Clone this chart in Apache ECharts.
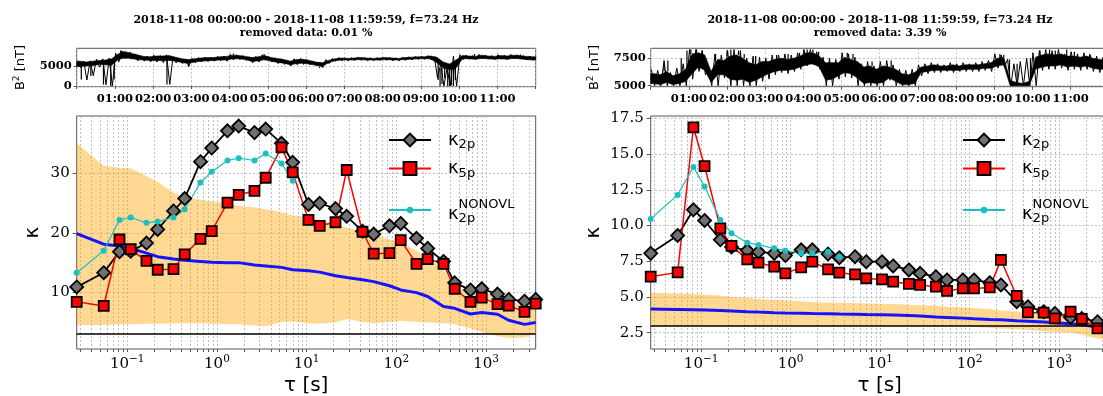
<!DOCTYPE html>
<html>
<head>
<meta charset="utf-8">
<script src="https://cdn.jsdelivr.net/npm/echarts@6/dist/echarts.min.js"></script>
<style>
html, body { margin: 0; padding: 0; background: #fff; }
#chart { width: 1103px; height: 396px; }
</style>
</head>
<body>
<div id="chart"></div>
<script>
// sampling frequency and window lengths (samples)
const fs = 73.24;
const lagSamples = [2, 4, 6, 8, 12, 16, 24, 32, 48, 64, 96, 128, 192, 256, 384, 512, 768, 1024, 1536, 2048,
  3072, 4096, 6144, 8192, 12288, 16384, 24576, 32768, 49152, 65536, 98304, 131072, 196608, 262144];
const kappaRef = 3;
const titleLine = '2018-11-08 00:00:00 - 2018-11-08 11:59:59, f=73.24 Hz';
const removedPct = ['0.01', '3.39'];

// tick labels
const tauDecades = [0.1, 1, 10, 100, 1000];
const hourTicks = [1, 2, 3, 4, 5, 6, 7, 8, 9, 10, 11];
const b2TicksA = [0, 5000];
const b2TicksB = [5000, 7500];
const kTicksA = [10, 20, 30];
const kTicksB = [2.5, 5, 7.5, 10, 12.5, 15, 17.5];

// ---- left panel ----
const k2pA = [10.9, 13.3, 16.85, 16.9, 18.3, 20.6, 23.7, 25.8, 32.0, 34.3, 37.2, 38.0, 36.9, 37.5, 35.1, 31.9,
  24.8, 25.0, 24.1, 22.8, 20.3, 19.8, 21.2, 21.6, 19.1, 17.4, 15.2, 11.6, 10.4, 10.6, 9.7, 8.8, 8.5, 8.8];
const k5pA = [8.4, 7.7, 18.9, 17.25, 15.3, 13.8, 13.9, 16.4, 19.0, 20.3, 25.1, 26.4, 27.1, 29.3, 34.4, 30.2,
  22.2, 21.2, 21.8, 30.6, 20.2, 16.5, 16.6, 18.8, 14.8, 15.6, 14.8, 10.6, 8.4, 9.1, 8.0, 7.75, 6.7, 8.1];
const kNonA = [13.3, 17.0, 22.2, 22.6, 21.7, 21.9, 22.6, 24.0, 28.5, 30.3, 32.2, 32.6, 32.2, 33.4, 31.7, 28.8];
const kMeanA = [19.9, 18.1, 17.8, 17.4, 16.6, 16.0, 15.6, 15.4, 15.2, 15.05, 15.0, 15.0, 14.6, 14.45, 14.2, 13.8,
  13.65, 13.4, 12.8, 12.5, 12.1, 11.8, 11.1, 10.4, 9.95, 9.3, 7.6, 7.3, 6.35, 6.6, 6.3, 5.3, 4.6, 4.9];
const bandLoA = [4.5, 4.5, 4.6, 4.6, 4.7, 4.7, 4.8, 4.8, 4.8, 4.7, 4.6, 4.6, 4.4, 4.3, 5.0, 5.1,
  4.8, 4.7, 4.9, 5.5, 5.0, 4.8, 5.0, 5.2, 5.0, 4.9, 4.8, 4.6, 3.9, 3.3, 2.6, 2.3, 2.4, 3.0];
const bandHiA = [35.1, 31.3, 31.0, 30.9, 29.6, 28.6, 26.8, 26.0, 25.6, 25.3, 25.0, 24.6, 24.3, 24.0, 23.5, 23.0,
  22.6, 22.2, 21.5, 20.9, 20.2, 19.7, 18.9, 18.4, 17.0, 15.8, 13.9, 11.0, 9.8, 9.6, 10.0, 8.8, 7.6, 7.0];
// B^2 in 10-minute bins from 00:00: dense core, bin peaks, and single spikes [hour, nT]
const coreHiA = [6200, 6000, 6200, 6400, 6500, 6800, 8000, 8600, 8200, 7800, 7400, 7300,
  7500, 7500, 7600, 7200, 6800, 6600, 6800, 7000, 7100, 7100, 7300, 7400,
  7700, 7600, 7400, 7100, 7300, 7600, 7100, 6900, 6600, 6200, 6600, 6700,
  6400, 6000, 5800, 6400, 6800, 7000, 6900, 7000, 7100, 7000, 6900, 7000,
  7100, 7000, 6900, 7100, 7200, 7300, 7300, 7500, 7200, 6000, 5500, 6500,
  7600, 7500, 7400, 7700, 7500, 7400, 7600, 7500, 7700, 7600, 7400, 7300];
const coreLoA = [4900, 5000, 5100, 5400, 5300, 5200, 6600, 7000, 6900, 6600, 6500, 6400,
  6400, 6300, 6400, 6200, 5900, 5600, 6000, 6200, 6300, 6400, 6500, 6500,
  6800, 6800, 6600, 6100, 6300, 6600, 6200, 5900, 5700, 5300, 5600, 5700,
  5500, 5200, 4900, 5800, 6300, 6500, 6500, 6500, 6600, 6500, 6500, 6500,
  6600, 6500, 6500, 6600, 6700, 6800, 6800, 6800, 5800, 4500, 4000, 4500,
  6800, 6800, 6700, 6900, 6800, 6700, 6800, 6700, 6900, 6800, 6600, 6500];
const peakHiA = [6300, 6200, 6300, 6700, 6800, 7000, 8200, 8800, 8300, 8000, 7500, 7400,
  7700, 7600, 7800, 7300, 6900, 6700, 6900, 7100, 7200, 7100, 7400, 7500,
  7900, 7800, 7600, 7300, 7400, 7800, 7300, 7000, 6800, 6400, 6800, 6900,
  6600, 6200, 6000, 6600, 6900, 7100, 7000, 7100, 7200, 7100, 7000, 7100,
  7200, 7100, 7000, 7200, 7300, 7400, 7400, 7600, 7300, 5500, 4500, 7500,
  7800, 7700, 7600, 7900, 7700, 7600, 7800, 7700, 7900, 7800, 7600, 7500];
const peakLoA = [4600, 1500, 2600, 4700, 300, 0, 6000, 6800, 6700, 6300, 6200, 6000,
  6000, 5800, 400, 5800, 5600, 5000, 5800, 6000, 6100, 6200, 6300, 6200,
  6500, 6600, 6400, 5800, 6000, 6400, 6000, 5600, 5400, 5000, 5300, 5400,
  5300, 5000, 4600, 5600, 6200, 6300, 6300, 6400, 6400, 6300, 6300, 6400,
  6400, 6300, 6300, 6400, 6500, 6600, 6700, 6500, 2000, 0, 0, 0,
  6600, 6700, 6600, 6800, 6700, 6600, 6700, 6600, 6800, 6700, 6500, 6400];
const spikesA = [[0.12, 1600], [0.37, 2500], [0.7, 400], [0.89, 0], [0.98, 1600], [1.15, 8900], [1.4, 8500],
  [2.36, 400], [2.92, 4800], [4.1, 8100], [4.9, 8000], [6.35, 4500], [9.45, 1500], [9.5, 0], [9.55, 500],
  [9.62, 2000], [9.7, 0], [9.75, 0], [9.8, 200], [9.85, 0], [9.9, 1500], [10.4, 8000], [11.6, 7900]];

// ---- right panel ----
const k2pB = [8.05, 9.3, 11.1, 10.35, 9.0, 8.5, 8.25, 8.15, 8.05, 7.9, 8.3, 8.3, 8.0, 7.75, 7.82, 7.47,
  7.47, 7.17, 6.89, 6.65, 6.42, 6.19, 6.19, 6.19, 6.0, 5.84, 4.67, 4.32, 3.97, 3.85, 3.57, 3.5, 3.27, 3.1];
const k5pB = [6.42, 6.72, 16.87, 14.16, 9.8, 8.57, 7.63, 7.4, 7.12, 6.65, 7.07, 7.47, 6.93, 6.7, 6.58, 6.3,
  6.23, 6.07, 5.91, 5.84, 5.72, 5.42, 5.6, 5.6, 5.67, 7.59, 5.07, 3.92, 3.9, 3.5, 3.97, 3.46, 2.8, 2.9];
const kNonB = [10.46, 12.13, 14.1, 12.72, 10.39, 9.45, 8.8, 8.64, 8.4, 8.24, 8.05, 8.05, 8.17, 7.82];
const kMeanB = [4.15, 4.12, 4.1, 4.08, 4.05, 4.02, 3.97, 3.94, 3.9, 3.88, 3.86, 3.84, 3.82, 3.8, 3.79, 3.77,
  3.75, 3.73, 3.7, 3.67, 3.6, 3.57, 3.52, 3.48, 3.43, 3.4, 3.33, 3.3, 3.25, 3.2, 3.12, 3.05, 2.9, 2.85];
const bandLoB = [2.95, 2.95, 2.95, 2.95, 2.95, 2.95, 2.95, 2.95, 2.95, 2.95, 2.95, 2.95, 2.95, 2.95, 2.95, 2.95,
  2.95, 2.95, 2.95, 2.95, 2.95, 2.95, 2.95, 2.9, 2.85, 2.8, 2.75, 2.7, 2.6, 2.55, 2.5, 2.35, 2.1, 2.0];
const bandHiB = [5.3, 5.25, 5.2, 5.15, 5.1, 5.0, 4.95, 4.85, 4.8, 4.75, 4.7, 4.65, 4.6, 4.6, 4.58, 4.55,
  4.52, 4.5, 4.45, 4.42, 4.38, 4.32, 4.28, 4.22, 4.15, 4.05, 3.98, 3.92, 3.85, 3.8, 3.7, 3.55, 3.35, 3.3];
const coreHiB = [6100, 6000, 6300, 5900, 6100, 6500, 7900, 8000, 7800, 6300, 7400, 7300,
  7700, 7800, 7500, 7100, 6900, 7200, 7200, 7400, 7500, 7400, 7500, 7700,
  8000, 8000, 7700, 7100, 7100, 7100, 7600, 7400, 7200, 6700, 6800, 6500,
  6800, 6700, 6500, 6100, 6000, 6200, 6700, 6800, 6900, 6800, 6800, 6900,
  6800, 6900, 6900, 6900, 7000, 7100, 7500, 7600, 5500, 5300, 5200, 5400,
  7600, 7800, 7900, 7800, 7900, 7700, 7700, 7600, 7700, 7500, 7400, 7300];
const coreLoB = [5200, 5100, 5300, 5100, 5200, 5400, 6100, 6700, 6400, 5300, 6000, 6000,
  5600, 5500, 5600, 5300, 5500, 5800, 6100, 6300, 6400, 6400, 6500, 6700,
  6900, 7000, 6700, 5500, 5600, 5900, 6200, 6100, 5700, 5200, 5300, 5200,
  5300, 5700, 5400, 5100, 5100, 5200, 6200, 6300, 6400, 6400, 6400, 6400,
  6400, 6500, 6500, 6500, 6600, 6600, 6800, 6900, 5000, 5000, 5000, 5000,
  6500, 6700, 6800, 6800, 6900, 6700, 6800, 6700, 6800, 6600, 6500, 6500];
const peakHiB = [6500, 6400, 7300, 6200, 6600, 7000, 8300, 8300, 8200, 6500, 7900, 7800,
  8200, 8300, 8200, 7500, 7700, 7600, 7500, 7800, 7800, 7900, 7800, 8000,
  8300, 8300, 8100, 7600, 7500, 7400, 8000, 7900, 7600, 7000, 7200, 6800,
  7200, 7300, 6900, 6500, 6400, 6500, 6900, 7000, 7100, 7000, 6900, 7100,
  7000, 7100, 7000, 7100, 7200, 7300, 7900, 7800, 7400, 7000, 7200, 7500,
  8000, 8200, 8300, 8200, 8300, 7900, 8100, 7900, 8000, 7800, 7700, 7600];
const peakLoB = [5000, 5000, 5000, 5000, 5000, 5000, 5600, 6300, 6000, 5000, 5000, 5700,
  5000, 5000, 5000, 5000, 5000, 5400, 5600, 6000, 6200, 6100, 6300, 6500,
  6800, 6900, 6500, 5000, 5000, 5600, 5800, 5700, 5000, 5000, 5000, 5000,
  5000, 5500, 5000, 5000, 5000, 5000, 5900, 6100, 6200, 6200, 6300, 6200,
  6300, 6300, 6300, 6300, 6400, 6300, 6600, 6700, 5000, 5000, 5000, 5000,
  5000, 6400, 6500, 6500, 6600, 6400, 6500, 6400, 6500, 6300, 6200, 6300];
const spikesB = [[0.35, 7000], [0.45, 7300], [0.8, 7500], [0.95, 8200], [1.05, 8300], [1.2, 8300],
  [1.35, 8200], [1.7, 7900], [2.0, 8200], [2.1, 8300], [2.3, 8200], [2.45, 7900], [2.75, 7700],
  [3.3, 7800], [3.6, 7900], [3.9, 8000], [4.1, 8300], [4.25, 8300], [4.4, 8100], [5.15, 8000], [5.3, 7900],
  [5.8, 7200], [6.3, 7300], [9.15, 7900], [9.25, 7800], [9.4, 7400], [9.6, 7000], [9.95, 7500],
  [10.2, 8200], [10.45, 8300], [10.6, 8200], [10.9, 8300], [11.1, 8100], [11.5, 7900]];

const SERIF = "'DejaVu Serif', serif";
const SANS = "'DejaVu Sans', sans-serif";
const tau = lagSamples.map(n => n / fs);
const pairs = vals => vals.map((v, i) => [tau[i], v]);

// minor + major grid positions on the log axis
const tauGrid = [];
for (let e = -2; e <= 3; e++) {
  for (let m = 1; m <= 9; m++) {
    const v = +(m * Math.pow(10, e)).toPrecision(6);
    if (v >= tau[0] && v <= tau[tau.length - 1]) tauGrid.push(v);
  }
}

function powLabel(v) {
  const e = Math.round(Math.log10(v));
  return '{b|10}{s|' + (e < 0 ? '\u2212' + (-e) : e) + '}';
}

const gridLine = { show: true, lineStyle: { color: '#b0b0b0', type: [2, 2], width: 0.8 } };
const frame = { show: true, borderColor: '#555', borderWidth: 1, backgroundColor: 'transparent', outerBoundsMode: 'none', containLabel: false };

function timeAxis(gi) {
  return {
    type: 'value', gridIndex: gi, min: 0, max: 12, interval: 1,
    axisLine: { show: false },
    axisTick: { show: true, length: 3, lineStyle: { color: '#555' } },
    axisLabel: {
      hideOverlap: false, margin: 6, color: '#000', fontFamily: SERIF, fontWeight: 'bold', fontSize: 11.5,
      formatter: v => hourTicks.indexOf(v) >= 0 ? String(v).padStart(2, '0') + ':00' : ''
    },
    splitLine: gridLine
  };
}

function tauAxis(gi) {
  return {
    type: 'log', logBase: 10, gridIndex: gi, min: tau[0], max: tau[tau.length - 1],
    name: 'τ [s]', nameLocation: 'middle', nameGap: 27, nameMoveOverlap: false,
    nameTextStyle: { fontFamily: SANS, fontSize: 20, color: '#000' },
    axisLine: { show: false },
    axisTick: { customValues: tauGrid, length: 3, lineStyle: { color: '#555' } },
    axisLabel: {
      customValues: tauDecades, formatter: powLabel, margin: 5, hideOverlap: false,
      rich: {
        b: { fontFamily: SERIF, fontSize: 15, color: '#000' },
        s: { fontFamily: SERIF, fontSize: 10.5, color: '#000', padding: [0, 0, 10, 0] }
      }
    },
    splitLine: gridLine
  };
}

function b2Axis(gi, min, max, ticks) {
  return {
    type: 'value', gridIndex: gi, min: min, max: max,
    name: '{a|B}{s|2}{a| [nT]}', nameLocation: 'middle', nameGap: 48, nameMoveOverlap: false,
    nameTextStyle: {
      rich: {
        a: { fontFamily: SANS, fontSize: 13, color: '#000' },
        s: { fontFamily: SANS, fontSize: 9, color: '#000', padding: [0, 0, 8, 0] }
      }
    },
    axisLine: { show: false },
    axisTick: { customValues: ticks, length: 3, lineStyle: { color: '#555' } },
    axisLabel: {
      customValues: ticks, margin: 5, color: '#000', fontFamily: SERIF, fontWeight: 'bold', fontSize: 11.5,
      formatter: v => String(v)
    },
    splitLine: gridLine
  };
}

function kAxis(gi, min, max, ticks, gap, fmt) {
  return {
    type: 'value', gridIndex: gi, min: min, max: max,
    name: 'κ', nameLocation: 'middle', nameGap: gap, nameMoveOverlap: false,
    nameTextStyle: { fontFamily: SANS, fontSize: 20, color: '#000' },
    axisLine: { show: false },
    axisTick: { customValues: ticks, length: 4, lineStyle: { color: '#555' } },
    axisLabel: { customValues: ticks, margin: 7, color: '#000', fontFamily: SERIF, fontSize: 15, formatter: fmt || (v => String(v)) },
    splitLine: gridLine
  };
}

// filled dense core of the B^2 trace (bin centres)
function coreSeries(xi, hi, lo) {
  const n = hi.length;
  const tc = i => (i + 0.5) / 6;
  return {
    type: 'custom', xAxisIndex: xi, yAxisIndex: xi, silent: true, clip: true,
    data: hi.map((v, i) => [tc(i), lo[i], v]),
    encode: { x: 0, y: [1, 2] },
    renderItem: (params, api) => {
      if (params.dataIndex !== 0) return null;
      const pts = [api.coord([0, hi[0]])];
      for (let i = 0; i < n; i++) pts.push(api.coord([tc(i), hi[i]]));
      pts.push(api.coord([12, hi[n - 1]]), api.coord([12, lo[n - 1]]));
      for (let i = n - 1; i >= 0; i--) pts.push(api.coord([tc(i), lo[i]]));
      pts.push(api.coord([0, lo[0]]));
      return { type: 'polygon', shape: { points: pts }, style: { fill: '#000', stroke: '#000', lineWidth: 0.6 } };
    }
  };
}

// bin peaks as a saw-tooth trace
function peakSeries(xi, hi, lo) {
  const pts = [];
  hi.forEach((h, i) => pts.push([i / 6 + 1 / 60, h], [i / 6 + 6 / 60, lo[i]]));
  return { type: 'line', xAxisIndex: xi, yAxisIndex: xi, data: pts, symbol: 'none', silent: true,
    lineStyle: { color: '#000', width: 1 } };
}

// single spikes leaving the core
function spikeSeries(xi, spikes, hi, lo) {
  return {
    type: 'custom', xAxisIndex: xi, yAxisIndex: xi, silent: true, clip: true,
    data: spikes, encode: { x: 0, y: 1 },
    renderItem: (params, api) => {
      const t = api.value(0), v = api.value(1);
      const b = Math.min(hi.length - 1, Math.floor(t * 6));
      const a = api.coord([t, v > hi[b] ? hi[b] : lo[b]]);
      const c = api.coord([t, v]);
      return { type: 'line', shape: { x1: a[0], y1: a[1], x2: c[0], y2: c[1] }, style: { stroke: '#000', lineWidth: 1.2 } };
    }
  };
}

function bandSeries(xi, lo, hi) {
  return {
    type: 'custom', xAxisIndex: xi, yAxisIndex: xi, silent: true, clip: true,
    data: lo.map((v, i) => [tau[i], v, hi[i]]),
    encode: { x: 0, y: [1, 2] },
    renderItem: (params, api) => {
      if (params.dataIndex !== 0) return null;
      const pts = [];
      for (let i = 0; i < tau.length; i++) pts.push(api.coord([tau[i], hi[i]]));
      for (let i = tau.length - 1; i >= 0; i--) pts.push(api.coord([tau[i], lo[i]]));
      return { type: 'polygon', shape: { points: pts }, style: { fill: 'rgba(255,165,0,0.42)' } };
    }
  };
}

function kappaSeries(xi, k2p, k5p, kNon, kMean) {
  return [
    {
      type: 'line', xAxisIndex: xi, yAxisIndex: xi, data: pairs(kMean), symbol: 'none', silent: true,
      lineStyle: { color: '#1414ff', width: 3 },
      markLine: {
        silent: true, symbol: 'none', label: { show: false },
        lineStyle: { color: '#000', width: 1.5, type: 'solid' },
        data: [{ yAxis: kappaRef }]
      }
    },
    {
      name: 'κ2p', type: 'line', xAxisIndex: xi, yAxisIndex: xi, data: pairs(k2p),
      symbol: 'diamond', symbolSize: 13,
      itemStyle: { color: '#707070', borderColor: '#000', borderWidth: 1.8 },
      lineStyle: { color: '#000', width: 1.8 }
    },
    {
      name: 'κ5p', type: 'line', xAxisIndex: xi, yAxisIndex: xi, data: pairs(k5p),
      symbol: 'rect', symbolSize: 10,
      itemStyle: { color: '#ff0000', borderColor: '#000', borderWidth: 1.8 },
      lineStyle: { color: '#ff0000', width: 1.5 }
    },
    {
      name: 'κ2pNONOVL', type: 'line', xAxisIndex: xi, yAxisIndex: xi, data: pairs(kNon),
      symbol: 'circle', symbolSize: 6,
      itemStyle: { color: '#1cbfbf', borderWidth: 0 },
      lineStyle: { color: '#1cbfbf', width: 1.2 }
    }
  ];
}

const legendRich = {
  k: { fontFamily: SANS, fontSize: 18, color: '#000', padding: [0, 0, 0, 12] },
  sub: { fontFamily: SANS, fontSize: 13, color: '#000', padding: [10, 0, 0, 0] },
  sp: { fontFamily: SANS, fontSize: 18, color: 'rgba(0,0,0,0)', lineHeight: 8, padding: [0, 0, 0, 12] },
  sup: { fontFamily: SANS, fontSize: 13, color: '#000', lineHeight: 8, padding: [12, 0, 0, 0] }
};
function legendText(name) {
  if (name === 'κ2p') return '{k|κ}{sub|2p}';
  if (name === 'κ5p') return '{k|κ}{sub|5p}';
  return '{sp|κ}{sup|NONOVL}\n{k|κ}{sub|2p}';
}
// the small-dot entry gets its own legend so its marker stays small
function legendAt(left, names, top, itemHeight) {
  return {
    data: names, orient: 'vertical', left: left, top: top, padding: 0,
    itemWidth: 42, itemHeight: itemHeight, itemGap: 8, selectedMode: false,
    formatter: legendText, textStyle: { rich: legendRich }
  };
}

function titleAt(cx, pct) {
  return {
    text: titleLine + '\nremoved data: ' + pct + ' %', left: cx, top: 13, padding: 0, textAlign: 'center',
    textStyle: { fontFamily: SERIF, fontWeight: 'bold', fontSize: 11, lineHeight: 13.5, color: '#000' }
  };
}

const chart = echarts.init(document.getElementById('chart'));
chart.setOption({
  animation: false,
  backgroundColor: '#fff',
  title: [titleAt(306, removedPct[0]), titleAt(880, removedPct[1])],
  legend: [
    legendAt(388, ['κ2p', 'κ5p'], 131, 16),
    legendAt(388, ['κ2pNONOVL'], 186, 8),
    legendAt(962, ['κ2p', 'κ5p'], 131, 16),
    legendAt(962, ['κ2pNONOVL'], 186, 8)
  ],
  grid: [
    Object.assign({ left: 76.7, top: 48.3, width: 459, height: 38.4 }, frame),
    Object.assign({ left: 76.7, top: 116, width: 459, height: 233 }, frame),
    Object.assign({ left: 650.7, top: 48.3, width: 458, height: 38.4 }, frame),
    Object.assign({ left: 650.7, top: 116, width: 458, height: 233 }, frame)
  ],
  xAxis: [timeAxis(0), tauAxis(1), timeAxis(2), tauAxis(3)],
  yAxis: [
    b2Axis(0, -175, 9425, b2TicksA),
    kAxis(1, 0.45, 39.7, kTicksA, 34),
    b2Axis(2, 4909, 8412, b2TicksB),
    kAxis(3, 1.36, 17.66, kTicksB, 47, v => v.toFixed(1))
  ],
  series: [
    coreSeries(0, coreHiA, coreLoA),
    peakSeries(0, peakHiA, peakLoA),
    spikeSeries(0, spikesA, coreHiA, coreLoA),
    bandSeries(1, bandLoA, bandHiA),
    ...kappaSeries(1, k2pA, k5pA, kNonA, kMeanA),
    coreSeries(2, coreHiB, coreLoB),
    peakSeries(2, peakHiB, peakLoB),
    spikeSeries(2, spikesB, coreHiB, coreLoB),
    bandSeries(3, bandLoB, bandHiB),
    ...kappaSeries(3, k2pB, k5pB, kNonB, kMeanB)
  ]
});
</script>
</body>
</html>
